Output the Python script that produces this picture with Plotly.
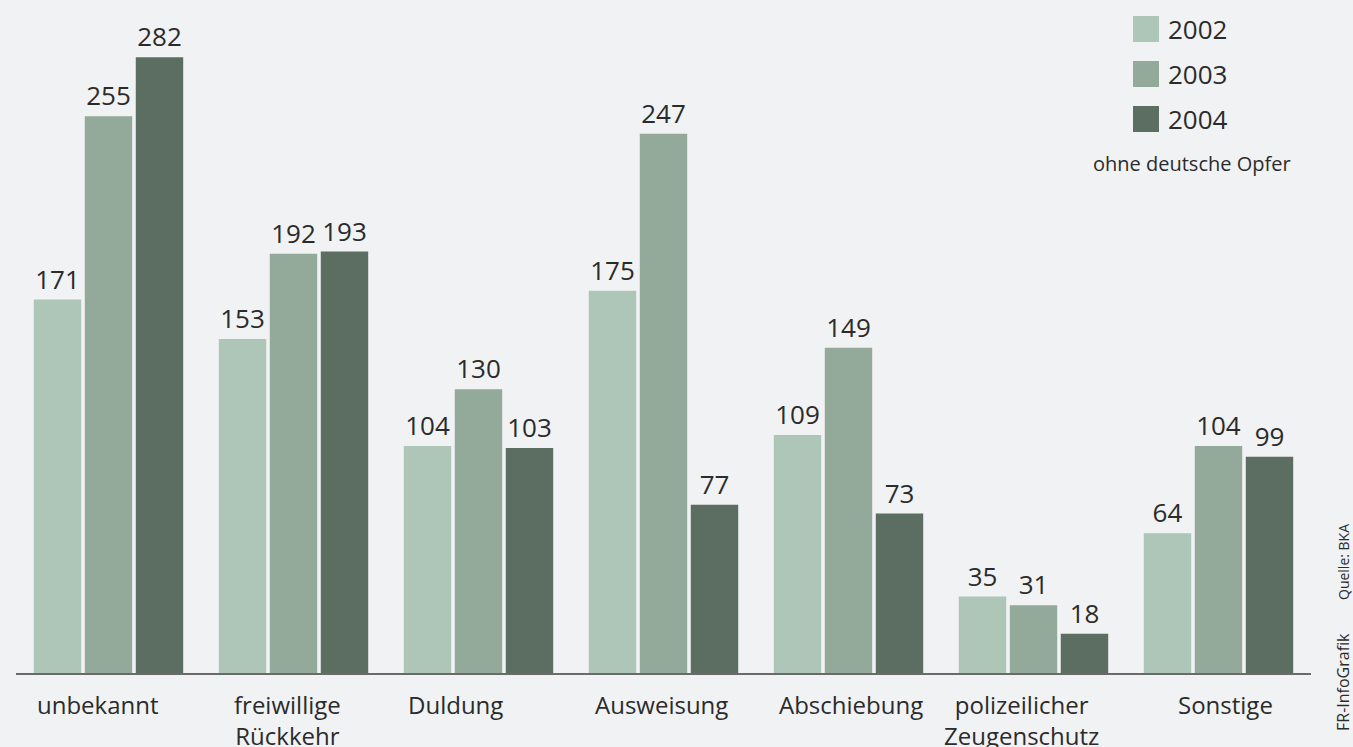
import plotly.graph_objects as go

categories = ["unbekannt", "freiwillige<br>Rückkehr", "Duldung", "Ausweisung",
              "Abschiebung", "polizeilicher<br>Zeugenschutz", "Sonstige"]
years = ["2002", "2003", "2004"]
v2002 = [171, 153, 104, 175, 109, 35, 64]
v2003 = [255, 192, 130, 247, 149, 31, 104]
v2004 = [282, 193, 103, 77, 73, 18, 99]
colors = ["#aec6b8", "#93a99a", "#5c6e62"]
# horizontal nudge (px) of each category label, as in the original layout
label_nudge = [-11, -6, -23, -2, 2, -12, 7]

FONT = "Open Sans"
TXT = "#2b2b2b"
BG = "#f1f2f4"

W, H = 1353, 747
ML, MR, MT, MB = 16, 42, 0, 74
PW, PH = W - ML - MR, H - MT - MB


def px(x):
    return (x - ML) / PW


def py(y):
    return (H - MB - y) / PH


fig = go.Figure()
for yr, vals, col in zip(years, [v2002, v2003, v2004], colors):
    fig.add_trace(go.Bar(
        x=list(range(len(categories))), y=vals, name=yr,
        marker=dict(color=col, line=dict(width=0)),
        text=[str(v) for v in vals], textposition="outside",
        textfont=dict(family=FONT, size=26, color=TXT),
        cliponaxis=False, showlegend=False,
    ))

fig.update_layout(
    width=W, height=H,
    margin=dict(l=ML, r=MR, t=MT, b=MB, autoexpand=False),
    paper_bgcolor=BG, plot_bgcolor=BG,
    barmode="group", bargap=0.173, bargroupgap=0.07,
    font=dict(family=FONT, color=TXT),
    xaxis=dict(
        tickmode="array", tickvals=list(range(len(categories))), showticklabels=False,
        range=[-0.5, 6.5], showgrid=False, zeroline=False, automargin=False,
        showline=True, linecolor="#6a6a6a", linewidth=2, ticks="",
    ),
    yaxis=dict(range=[0, 308.2], visible=False, showgrid=False, zeroline=False,
               automargin=False),
)

# category labels
for i, (cat, nudge) in enumerate(zip(categories, label_nudge)):
    fig.add_annotation(xref="x", yref="paper", x=i, y=0, yanchor="top", xanchor="center",
                       xshift=nudge, yshift=-13, showarrow=False, align="center",
                       text=cat, font=dict(family=FONT, size=24, color=TXT))

# custom legend
for i, (yr, col) in enumerate(zip(years, colors)):
    y0 = 16 + i * 45
    fig.add_shape(type="rect", xref="paper", yref="paper",
                  x0=px(1133), x1=px(1159), y0=py(y0), y1=py(y0 + 26),
                  fillcolor=col, line=dict(width=0))
    fig.add_annotation(xref="paper", yref="paper",
                       x=px(1166), y=py(y0 + 13),
                       xanchor="left", yanchor="middle", showarrow=False,
                       text=yr, font=dict(family=FONT, size=26, color=TXT))

fig.add_annotation(xref="paper", yref="paper",
                   x=px(1192), y=py(163),
                   xanchor="center", yanchor="middle", showarrow=False,
                   text="ohne deutsche Opfer", font=dict(family=FONT, size=20, color=TXT))

fig.add_annotation(xref="paper", yref="paper",
                   x=px(1343), y=py(562),
                   xanchor="center", yanchor="middle", showarrow=False, textangle=-90,
                   text="Quelle: BKA", font=dict(family=FONT, size=14, color=TXT))
fig.add_annotation(xref="paper", yref="paper",
                   x=px(1343), y=py(682),
                   xanchor="center", yanchor="middle", showarrow=False, textangle=-90,
                   text="FR-InfoGrafik", font=dict(family=FONT, size=16, color=TXT))

fig.write_html("out.html", config={"displayModeBar": False},
               post_script="document.body.style.margin='0';document.body.style.overflow='hidden';")
